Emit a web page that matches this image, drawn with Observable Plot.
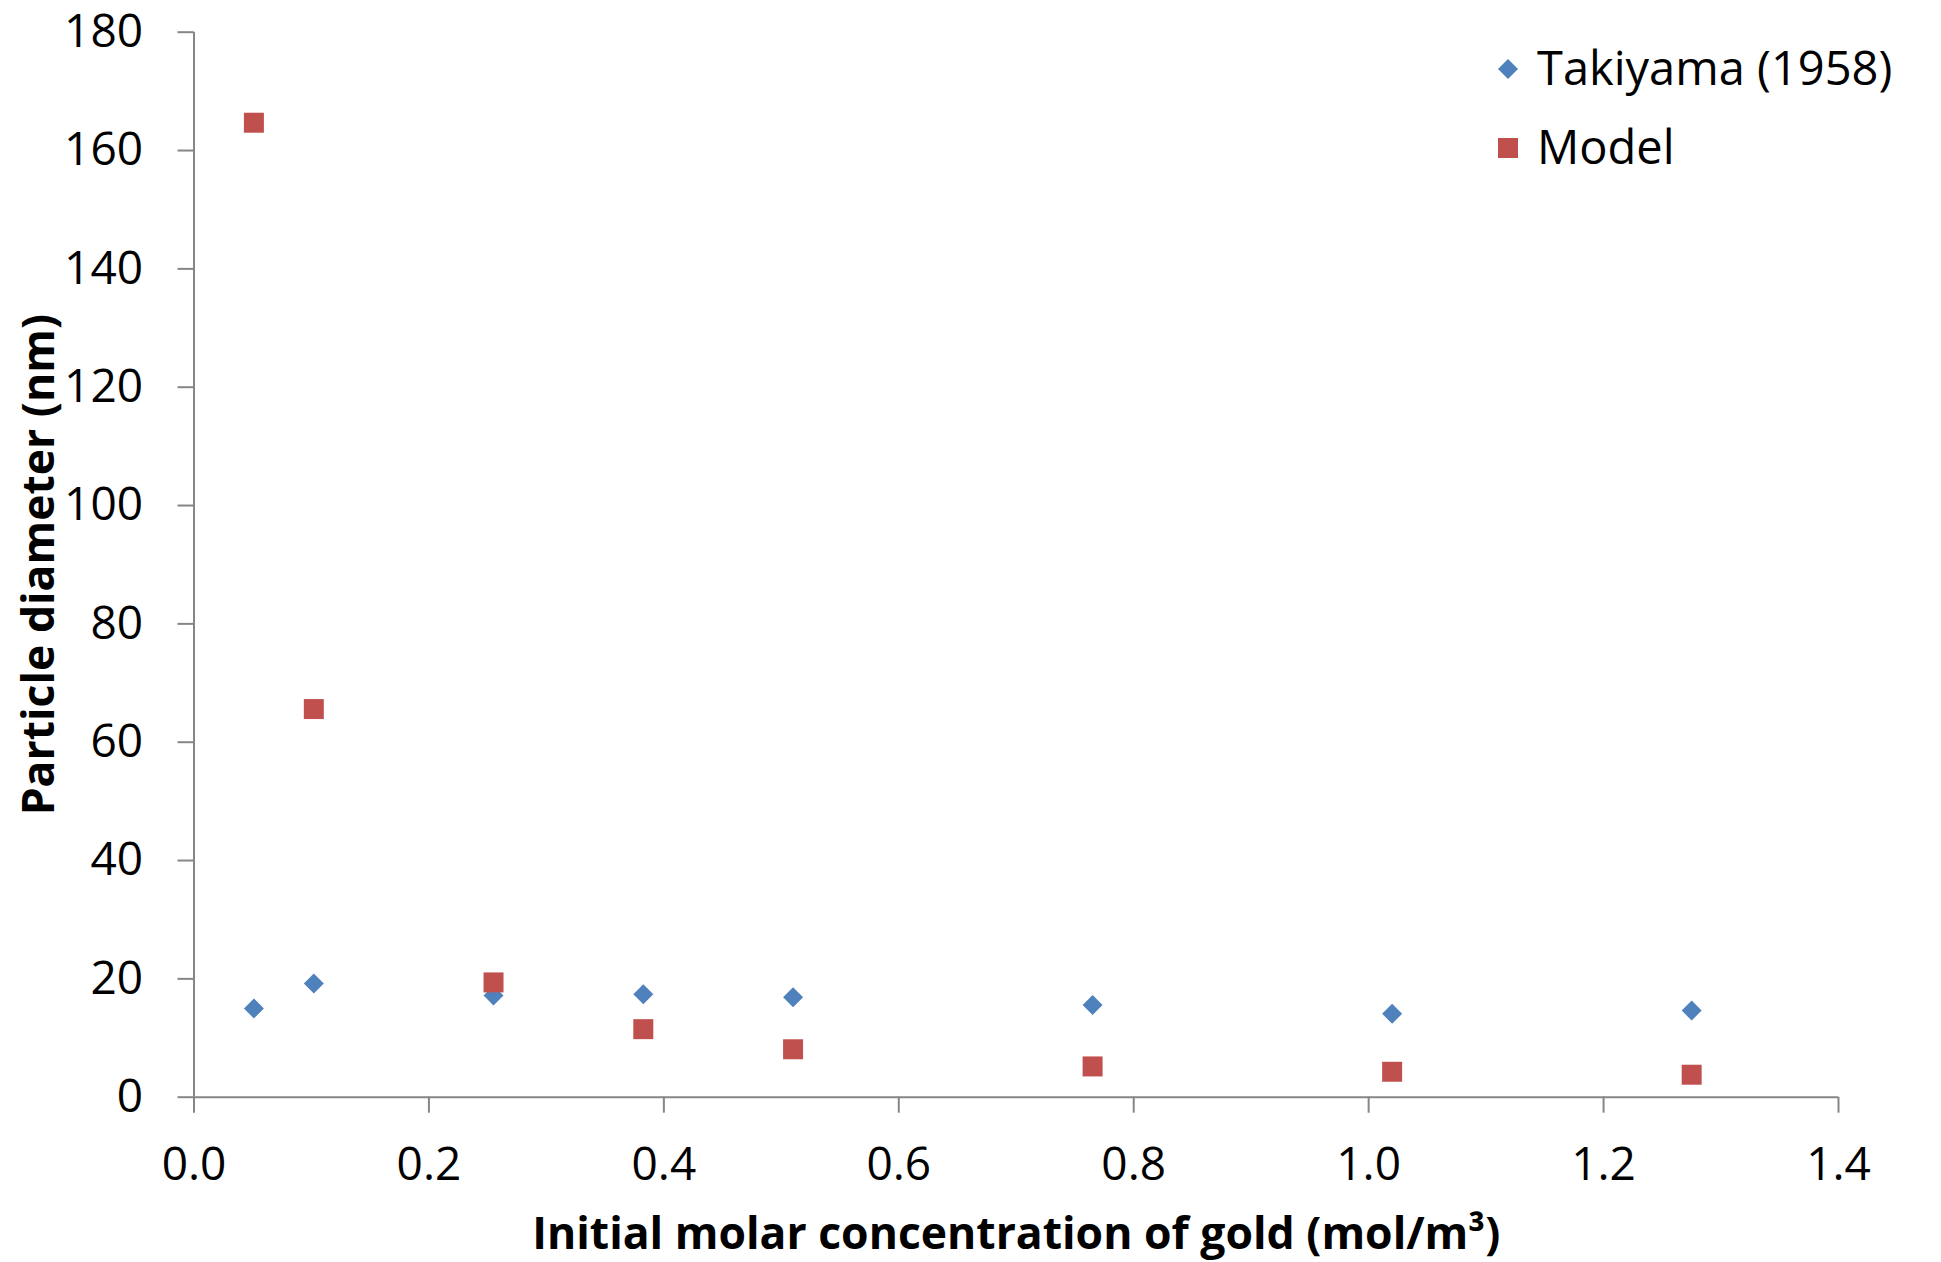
<!DOCTYPE html>
<html>
<head>
<meta charset="utf-8">
<script src="https://cdn.jsdelivr.net/npm/d3@7"></script>
<script src="https://cdn.jsdelivr.net/npm/@observablehq/plot@0.6"></script>
<style>
html, body { margin: 0; padding: 0; background: #fff; }
#wrap { position: relative; width: 1941px; height: 1262px; font-family: "Open Sans", sans-serif; }
#legend { position: absolute; left: 0; top: 0; }
.lg-row { position: absolute; display: flex; align-items: center; height: 60px; }
.lg-row span { font-size: 47px; line-height: 1; color: #000; margin-left: 19px; white-space: nowrap; position: relative; top: -2px; }
g[aria-label="x-axis label"] text, g[aria-label="y-axis label"] text { font-size: 44.5px; font-weight: bold; }
</style>
</head>
<body>
<div id="wrap"><div id="chart"></div><div id="legend"></div></div>
<script>
// Data
const concentration = [0.051, 0.102, 0.255, 0.3825, 0.51, 0.765, 1.02, 1.275];
const takiyama = [15.0, 19.2, 17.2, 17.4, 16.9, 15.6, 14.1, 14.65];
const model = [164.7, 65.6, 19.4, 11.5, 8.1, 5.2, 4.3, 3.8];
const seriesNames = ["Takiyama (1958)", "Model"];
const seriesColors = ["#4F81BD", "#C0504D"];
const seriesSymbols = ["diamond2", "square"];
const xTicks = [0, 0.2, 0.4, 0.6, 0.8, 1.0, 1.2, 1.4];
const yTicks = [0, 20, 40, 60, 80, 100, 120, 140, 160, 180];
const xLabel = "Initial molar concentration of gold (mol/m³)";
const yLabel = "Particle diameter (nm)";

const takiyamaData = concentration.map((c, i) => ({c, v: takiyama[i]}));
const modelData = concentration.map((c, i) => ({c, v: model[i]}));

const axisGray = "#868686";
const chart = Plot.plot({
  width: 1941,
  height: 1262,
  marginLeft: 193.5,
  marginRight: 103,
  marginTop: 31.7,
  marginBottom: 165.3,
  style: {fontFamily: '"Open Sans", sans-serif', background: "#fff", overflow: "visible", color: "#000"},
  x: {domain: [0, 1.4]},
  y: {domain: [0, 180]},
  marks: [
    Plot.axisX({
      ticks: xTicks, tickFormat: d => d.toFixed(1), tickSize: 16, tickPadding: 34,
      fontSize: 46, stroke: axisGray, strokeWidth: 2, fill: "#000",
      label: xLabel, labelAnchor: "center", labelArrow: "none", labelOffset: 152
    }),
    Plot.axisY({
      ticks: yTicks, tickFormat: d => String(d), tickSize: 16, tickPadding: 35,
      fontSize: 46, stroke: axisGray, strokeWidth: 2, fill: "#000",
      label: yLabel, labelAnchor: "center", labelArrow: "none", labelOffset: 172
    }),
    Plot.ruleX([0], {stroke: axisGray, strokeWidth: 2}),
    Plot.ruleY([0], {stroke: axisGray, strokeWidth: 2}),
    Plot.dot(takiyamaData, {x: "c", y: "v", symbol: seriesSymbols[0], r: 9, fill: seriesColors[0], stroke: "none"}),
    Plot.dot(modelData, {x: "c", y: "v", symbol: seriesSymbols[1], r: 11.28, fill: seriesColors[1], stroke: "none"})
  ]
});
document.getElementById("chart").appendChild(chart);

// Legend (HTML overlay, top right inside plot area)
const legend = document.getElementById("legend");
seriesNames.forEach((name, i) => {
  const row = document.createElement("div");
  row.className = "lg-row";
  row.style.left = "1498px";
  row.style.top = (69 + i * 79 - 30) + "px";
  const sw = d3.create("svg").attr("width", 20).attr("height", 20).attr("viewBox", "-10 -10 20 20");
  if (seriesSymbols[i] === "diamond2") {
    sw.append("path").attr("d", "M0,-10L10,0L0,10L-10,0Z").attr("fill", seriesColors[i]);
  } else {
    sw.append("rect").attr("x", -10).attr("y", -10).attr("width", 20).attr("height", 20).attr("fill", seriesColors[i]);
  }
  row.appendChild(sw.node());
  const t = document.createElement("span");
  t.textContent = name;
  row.appendChild(t);
  legend.appendChild(row);
});
</script>
</body>
</html>
